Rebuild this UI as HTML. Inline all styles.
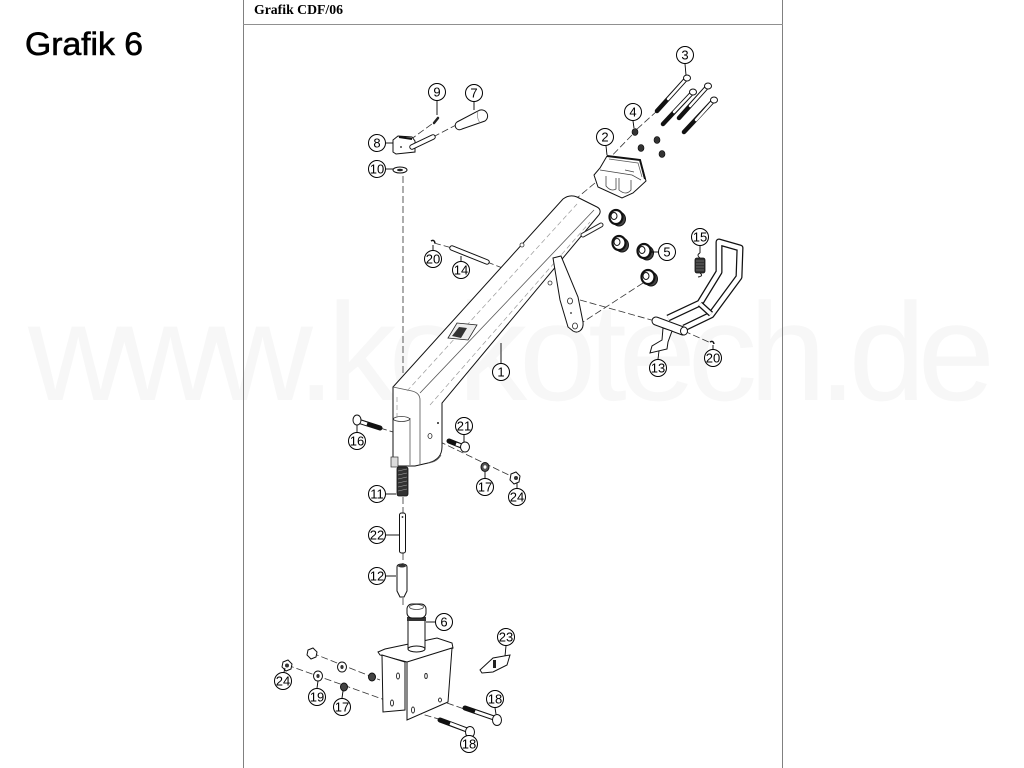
<!DOCTYPE html>
<html><head><meta charset="utf-8"><style>
html,body{margin:0;padding:0;background:#fff;}
svg{display:block;}
.n{font-family:"Liberation Sans Narrow","Liberation Sans",sans-serif;font-size:13px;text-anchor:middle;fill:#000;}
</style></head><body>
<svg width="1024" height="768" viewBox="0 0 1024 768" xmlns="http://www.w3.org/2000/svg">
<rect width="1024" height="768" fill="#fff"/>
<!-- watermark -->
<text x="28" y="400" font-family="Liberation Sans, sans-serif" font-size="139" fill="#f7f7f7" textLength="967" lengthAdjust="spacing">www.kokotech.de</text>
<!-- frame -->
<line x1="243.5" y1="0" x2="243.5" y2="768" stroke="#808080" stroke-width="1"/>
<line x1="782.5" y1="0" x2="782.5" y2="768" stroke="#808080" stroke-width="1"/>
<line x1="243" y1="24.5" x2="783" y2="24.5" stroke="#909090" stroke-width="1"/>
<text x="254" y="14" font-family="Liberation Serif, serif" font-weight="bold" font-size="13.5" textLength="89" lengthAdjust="spacingAndGlyphs">Grafik CDF/06</text>
<text x="25" y="55" font-family="Liberation Sans, sans-serif" font-size="32" stroke="#000" stroke-width="0.6" textLength="118" lengthAdjust="spacingAndGlyphs">Grafik 6</text>

<g fill="none" stroke="#333" stroke-width="0.8" stroke-dasharray="7,3">
<!-- main axis -->
<line x1="403" y1="176" x2="403" y2="418"/>
<line x1="403" y1="497" x2="403" y2="513"/>
<line x1="403" y1="553" x2="403" y2="565"/>
<line x1="403" y1="598" x2="403" y2="606"/>
<line x1="410" y1="140" x2="436" y2="121"/>
<line x1="433" y1="137" x2="458" y2="124"/>
<line x1="657" y1="111" x2="636" y2="130"/>
<line x1="632" y1="135" x2="601" y2="167"/>
<line x1="595" y1="183" x2="566" y2="207"/>
<line x1="434" y1="243" x2="452" y2="248"/>
<line x1="487" y1="262" x2="505" y2="269"/>
<line x1="580" y1="300" x2="655" y2="321"/>
<line x1="643" y1="283" x2="583" y2="322"/>
<line x1="684" y1="331" x2="711" y2="343"/>
<line x1="380" y1="428" x2="393" y2="432"/>
<line x1="430" y1="437" x2="515" y2="478"/>
<line x1="287" y1="665" x2="385" y2="700"/>
<line x1="312" y1="653" x2="380" y2="680"/>
<line x1="447" y1="703" x2="467" y2="710"/>
<line x1="415" y1="712" x2="442" y2="720"/>
</g>

<!-- BEAM part 1 -->
<g stroke="#111" stroke-width="1" fill="#fff">
<path d="M393,387 L563,199 C567,196 572,195 577,197 L597,207 C601,209 601,213 598,216 L442,403 L442,447 C442,456 436,461 428,463 L415,466 L395,466 L393,465 Z"/>
</g>
<g fill="none" stroke="#555" stroke-width="0.8">
<path d="M393,387 L412,391 Q420,393 420,400 L420,465"/>
<line x1="420" y1="393" x2="594" y2="210"/>
<line x1="410" y1="418" x2="410" y2="465"/>
<path d="M428,463 Q437,462 441,455"/>
</g>
<g fill="none" stroke="#999" stroke-width="0.7" stroke-dasharray="5,3">
<line x1="407" y1="391" x2="577" y2="204"/>
<line x1="430" y1="405" x2="590" y2="222"/>
<line x1="397" y1="397" x2="397" y2="418"/>
</g>
<ellipse cx="401.5" cy="419" rx="8" ry="2.5" fill="#fff" stroke="#333" stroke-width="0.8"/>
<rect x="391" y="457" width="7" height="10" fill="#ddd" stroke="#333" stroke-width="0.7"/>
<ellipse cx="430" cy="436" rx="2" ry="2.5" fill="none" stroke="#222" stroke-width="0.8"/>
<circle cx="438" cy="423" r="1" fill="#222"/>
<!-- slot at top -->
<line x1="583" y1="235" x2="601" y2="225" stroke="#222" stroke-width="5" stroke-linecap="round"/>
<line x1="583" y1="235" x2="601" y2="225" stroke="#fff" stroke-width="3" stroke-linecap="round"/>
<!-- studs -->
<circle cx="522" cy="245" r="2" fill="#fff" stroke="#333" stroke-width="0.8"/>
<circle cx="550" cy="283" r="2" fill="#fff" stroke="#333" stroke-width="0.8"/>
<!-- latch window -->
<path d="M448,338 L457,323 L477,325 L468,340 Z" fill="#eee" stroke="#222" stroke-width="0.8"/>
<path d="M452,336 L459,327 L467,328 L461,338 Z" fill="#333"/>
<!-- lever plate -->
<path d="M553,258 L561,256 L578,297 L583,322 C584,330 578,334 573,331 L568,327 L560,300 Z" fill="#fff" stroke="#111" stroke-width="1"/>
<ellipse cx="570" cy="301" rx="2.5" ry="3" fill="none" stroke="#222" stroke-width="0.8"/>
<ellipse cx="575" cy="326" rx="2.5" ry="3" fill="none" stroke="#222" stroke-width="0.8"/>
<circle cx="571" cy="313" r="0.9" fill="#222"/>

<!-- Bracket part 2 -->
<path d="M600,168 L607,156 L640,160 L646,181 L633,193 L622,198 L598,187 L594,175 Z" fill="#fff" stroke="#111" stroke-width="1"/>
<path d="M607,156 L640,160 L645,179" fill="none" stroke="#111" stroke-width="2"/>
<path d="M609,159 L638,163 L642,177" fill="none" stroke="#555" stroke-width="0.7"/>
<path d="M600,170 L632,175 L641,180 M606,176 L606,186 Q611,192 616,189 L616,178 M619,178 L619,190 Q626,196 631,190 L631,180 M625,170 L634,172" fill="none" stroke="#444" stroke-width="0.8"/>

<!-- Bolts 3 -->
<g stroke-linecap="round">
<g stroke="#111" stroke-width="4.5"><line x1="686" y1="79" x2="657" y2="111"/><line x1="692" y1="93" x2="663" y2="124"/><line x1="707" y1="87" x2="679" y2="118"/><line x1="713" y1="101" x2="684" y2="132"/></g>
<g stroke="#fff" stroke-width="2.5"><line x1="686" y1="79" x2="668" y2="99"/><line x1="692" y1="93" x2="674" y2="112"/><line x1="707" y1="87" x2="690" y2="106"/><line x1="713" y1="101" x2="696" y2="120"/></g>
</g>
<g fill="#fff" stroke="#111" stroke-width="1">
<ellipse cx="687" cy="78" rx="3.5" ry="3"/><ellipse cx="693" cy="92" rx="3.5" ry="3"/><ellipse cx="708" cy="86" rx="3.5" ry="3"/><ellipse cx="714" cy="100" rx="3.5" ry="3"/>
</g>
<!-- Nuts 4 -->
<g fill="#333" stroke="#000" stroke-width="0.6">
<ellipse cx="635" cy="132" rx="3" ry="3.5"/><ellipse cx="657" cy="140" rx="3" ry="3.5"/><ellipse cx="641" cy="148" rx="3" ry="3.5"/><ellipse cx="662" cy="154" rx="3" ry="3.5"/>
</g>
<!-- Nuts 5 -->
<g fill="#444" stroke="#111" stroke-width="1">
<ellipse cx="619" cy="219" rx="6.5" ry="7"/><ellipse cx="622" cy="245" rx="6.5" ry="7"/><ellipse cx="647" cy="253" rx="6.5" ry="7"/><ellipse cx="651" cy="279" rx="6.5" ry="7"/>
</g>
<g fill="#fff" stroke="#111">
<g stroke-width="2.2"><ellipse cx="616" cy="217" rx="6.5" ry="7"/><ellipse cx="619" cy="243" rx="6.5" ry="7"/><ellipse cx="644" cy="251" rx="6.5" ry="7"/><ellipse cx="648" cy="277" rx="6.5" ry="7"/></g>
<g stroke-width="1"><ellipse cx="614" cy="216" rx="3" ry="3.5"/><ellipse cx="617" cy="242" rx="3" ry="3.5"/><ellipse cx="642" cy="250" rx="3" ry="3.5"/><ellipse cx="646" cy="276" rx="3" ry="3.5"/></g>
</g>

<!-- Handle parts 7,8,9,10 -->
<path d="M393,140 L398,136 L412,137 L415,141 L415,152 L396,154 L393,152 Z" fill="#fff" stroke="#111" stroke-width="1"/>
<line x1="399" y1="137" x2="412" y2="139" stroke="#111" stroke-width="2"/>
<circle cx="401" cy="147" r="0.9" fill="#111"/>
<line x1="412" y1="147" x2="433" y2="137" stroke="#111" stroke-width="5.5" stroke-linecap="round"/>
<line x1="412" y1="147" x2="433" y2="137" stroke="#fff" stroke-width="3.5" stroke-linecap="round"/>
<path d="M457,122 L478,111 A6,6 0 0 1 485,121 L462,129 A4,4 0 0 1 457,122 Z" fill="#fff" stroke="#111" stroke-width="1"/>
<path d="M478,111 Q476,117 480,123" fill="none" stroke="#888" stroke-width="0.7"/>
<line x1="434" y1="123" x2="438" y2="118" stroke="#222" stroke-width="2.5" stroke-linecap="round"/>
<ellipse cx="400" cy="170" rx="7" ry="3" fill="#fff" stroke="#111" stroke-width="1"/>
<ellipse cx="400" cy="170" rx="3" ry="1.3" fill="#222"/>

<!-- Pin 14 and clips 20 -->
<line x1="452" y1="248" x2="487" y2="262" stroke="#111" stroke-width="5.5" stroke-linecap="round"/>
<line x1="452" y1="248" x2="487" y2="262" stroke="#fff" stroke-width="3.5" stroke-linecap="round"/>
<path d="M431,241 Q434,239 435,243" fill="none" stroke="#111" stroke-width="1.5"/>
<path d="M710,342 Q713,340 714,344" fill="none" stroke="#111" stroke-width="1.5"/>

<!-- Spring 15 -->
<path d="M700,253 Q696,255 700,258 M700,273 Q704,276 698,277" fill="none" stroke="#222" stroke-width="1"/>
<rect x="695" y="258" width="10" height="15" rx="2" fill="#333" stroke="#111" stroke-width="0.8"/>
<g stroke="#888" stroke-width="0.6"><line x1="696" y1="261" x2="704" y2="261"/><line x1="696" y1="264" x2="704" y2="264"/><line x1="696" y1="267" x2="704" y2="267"/><line x1="696" y1="270" x2="704" y2="270"/></g>

<!-- Pedal 13 -->
<path d="M668,318 L700,303 L719,272 L719,242 L740,248 L739,277 L711,315 L684,328" fill="none" stroke="#111" stroke-width="7" stroke-linejoin="round"/>
<path d="M668,318 L700,303 L719,272 L719,242 L740,248 L739,277 L711,315 L684,328" fill="none" stroke="#fff" stroke-width="4.5" stroke-linejoin="round"/>
<line x1="700" y1="304" x2="711" y2="314" stroke="#111" stroke-width="6"/>
<line x1="700" y1="304" x2="711" y2="314" stroke="#fff" stroke-width="3.5"/>
<line x1="656" y1="321" x2="683" y2="331" stroke="#111" stroke-width="9" stroke-linecap="round"/>
<line x1="656" y1="321" x2="683" y2="331" stroke="#fff" stroke-width="7" stroke-linecap="round"/>
<ellipse cx="684" cy="331" rx="3.5" ry="4" fill="#fff" stroke="#111" stroke-width="1"/>
<path d="M663,328 L672,331 L668,342 L667,349 L650,353 L652,346 L662,340 Z" fill="#fff" stroke="#111" stroke-width="1"/>

<!-- Bolt 16 -->
<line x1="358" y1="421" x2="380" y2="428" stroke="#111" stroke-width="5" stroke-linecap="round"/>
<line x1="358" y1="421" x2="367" y2="424" stroke="#fff" stroke-width="3"/>
<ellipse cx="357" cy="420" rx="4" ry="5" fill="#fff" stroke="#111" stroke-width="1"/>
<!-- Bolt 21 -->
<line x1="449" y1="441" x2="464" y2="447" stroke="#111" stroke-width="5" stroke-linecap="round"/>
<line x1="456" y1="444" x2="462" y2="446" stroke="#fff" stroke-width="3"/>
<ellipse cx="465" cy="447" rx="4.5" ry="5" fill="#fff" stroke="#111" stroke-width="1"/>
<!-- nut 17 / 24 upper -->
<ellipse cx="485" cy="467" rx="4" ry="4.5" fill="#555" stroke="#111" stroke-width="1"/>
<ellipse cx="485" cy="467" rx="1.5" ry="1.8" fill="#fff"/>
<path d="M511,474 L516,472 L520,476 L519,482 L514,484 L510,480 Z" fill="#fff" stroke="#111" stroke-width="1"/>
<circle cx="516" cy="478" r="2" fill="#333"/>

<!-- Spring 11 -->
<rect x="397" y="467" width="11" height="29" rx="2" fill="#333" stroke="#111" stroke-width="0.8"/>
<g stroke="#aaa" stroke-width="0.6"><line x1="398" y1="471" x2="407" y2="469"/><line x1="398" y1="475" x2="407" y2="473"/><line x1="398" y1="479" x2="407" y2="477"/><line x1="398" y1="483" x2="407" y2="481"/><line x1="398" y1="487" x2="407" y2="485"/><line x1="398" y1="491" x2="407" y2="489"/></g>
<!-- Pin 22 -->
<rect x="399.5" y="513" width="6" height="40" rx="2" fill="#fff" stroke="#111" stroke-width="1"/>
<circle cx="402.5" cy="517" r="0.9" fill="#111"/>
<!-- Bush 12 -->
<path d="M397,567 Q397,564 402,564 Q407,564 407,567 L407,591 L404,597 L400,597 L397,591 Z" fill="#fff" stroke="#111" stroke-width="1"/>
<ellipse cx="402" cy="566" rx="4" ry="1.5" fill="#333"/>

<!-- Part 6 and base -->
<path d="M378,652 L385,649 L437,638 L452,643 L453,648 L413,663 L407,662 L380,655 Z" fill="#fff" stroke="#111" stroke-width="1"/>
<path d="M382,655 L405,662 L405,710 L383,712 Z" fill="#fff" stroke="#111" stroke-width="1"/>
<path d="M407,662 L452,648 L448,702 L407,720 Z" fill="#fff" stroke="#111" stroke-width="1"/>
<g fill="none" stroke="#222" stroke-width="0.9">
<ellipse cx="398" cy="676" rx="1.5" ry="3"/><ellipse cx="392" cy="703" rx="1.5" ry="3"/><ellipse cx="426" cy="676" rx="1.3" ry="2.5"/><ellipse cx="413" cy="710" rx="1.5" ry="3"/><ellipse cx="440" cy="700" rx="1.5" ry="2"/>
</g>
<rect x="408" y="619" width="17" height="30" fill="#fff" stroke="#111" stroke-width="1"/>
<ellipse cx="416.5" cy="649" rx="8.5" ry="3" fill="#fff" stroke="#111" stroke-width="1"/>
<rect x="407" y="617" width="19" height="4" fill="#333"/>
<rect x="407" y="604" width="19" height="14" rx="5" fill="#fff" stroke="#111" stroke-width="1"/>
<ellipse cx="416.5" cy="607" rx="7" ry="2.5" fill="none" stroke="#444" stroke-width="0.8"/>
<!-- Part 23 -->
<path d="M480,670 L493,658 L510,655 L507,665 L493,672 L482,673 Z" fill="#fff" stroke="#111" stroke-width="1"/>
<rect x="493" y="660" width="3" height="8" fill="#222"/>
<!-- Bolts 18 -->
<line x1="465" y1="708" x2="494" y2="718" stroke="#111" stroke-width="5" stroke-linecap="round"/>
<line x1="475" y1="711.5" x2="494" y2="718" stroke="#fff" stroke-width="3"/>
<ellipse cx="497" cy="720" rx="4.5" ry="5.5" fill="#fff" stroke="#111" stroke-width="1"/>
<line x1="440" y1="720" x2="467" y2="730" stroke="#111" stroke-width="5" stroke-linecap="round"/>
<line x1="450" y1="723.5" x2="467" y2="730" stroke="#fff" stroke-width="3"/>
<ellipse cx="470" cy="732" rx="4.5" ry="5.5" fill="#fff" stroke="#111" stroke-width="1"/>
<!-- lower nuts/washers -->
<path d="M283,662 L288,660 L292,664 L291,669 L286,671 L282,667 Z" fill="#fff" stroke="#111" stroke-width="1"/>
<circle cx="287" cy="665.5" r="2" fill="#333"/>
<path d="M308,650 L313,648 L317,652 L316,657 L311,659 L307,655 Z" fill="#fff" stroke="#111" stroke-width="1"/>
<ellipse cx="318" cy="676" rx="4.5" ry="5" fill="#fff" stroke="#111" stroke-width="1"/>
<ellipse cx="318" cy="676" rx="1.6" ry="2" fill="#333"/>
<ellipse cx="342" cy="667" rx="4.5" ry="5" fill="#fff" stroke="#111" stroke-width="1"/>
<ellipse cx="342" cy="667" rx="1.6" ry="2" fill="#333"/>
<ellipse cx="344" cy="687" rx="3.5" ry="4" fill="#444" stroke="#111" stroke-width="1"/>
<ellipse cx="372" cy="677" rx="3.5" ry="4" fill="#444" stroke="#111" stroke-width="1"/>

<!-- leaders -->
<g stroke="#000" stroke-width="0.9" fill="none">
<line x1="685" y1="64" x2="686" y2="75"/>
<line x1="633" y1="121" x2="634" y2="128"/>
<line x1="606" y1="146" x2="607" y2="155"/>
<line x1="437" y1="101" x2="437" y2="115"/>
<line x1="474" y1="102" x2="474" y2="110"/>
<line x1="386" y1="143" x2="393" y2="143"/>
<line x1="386" y1="169" x2="393" y2="169"/>
<line x1="658" y1="252" x2="651" y2="252"/>
<line x1="700" y1="246" x2="700" y2="253"/>
<line x1="433" y1="250" x2="433" y2="245"/>
<line x1="461" y1="261" x2="461" y2="256"/>
<line x1="501" y1="363" x2="501" y2="343"/>
<line x1="658" y1="359" x2="659" y2="351"/>
<line x1="713" y1="349" x2="713" y2="345"/>
<line x1="357" y1="432" x2="357" y2="425"/>
<line x1="464" y1="435" x2="464" y2="442"/>
<line x1="485" y1="478" x2="485" y2="472"/>
<line x1="517" y1="488" x2="517" y2="483"/>
<line x1="386" y1="494" x2="396" y2="494"/>
<line x1="386" y1="535" x2="399" y2="535"/>
<line x1="386" y1="576" x2="396" y2="576"/>
<line x1="435" y1="622" x2="426" y2="622"/>
<line x1="506" y1="646" x2="505" y2="656"/>
<line x1="284" y1="672" x2="285" y2="668"/>
<line x1="317" y1="688" x2="318" y2="681"/>
<line x1="342" y1="698" x2="343" y2="691"/>
<line x1="495" y1="708" x2="496" y2="714"/>
<line x1="469" y1="735" x2="469" y2="737"/>
</g>

<!-- callouts -->
<g fill="#fff" stroke="#000" stroke-width="1">
<circle cx="685" cy="55" r="8.5"/><circle cx="633" cy="112" r="8.5"/><circle cx="605" cy="137" r="8.5"/>
<circle cx="437" cy="92" r="8.5"/><circle cx="474" cy="93" r="8.5"/><circle cx="377" cy="143" r="8.5"/>
<circle cx="377" cy="169" r="8.5"/><circle cx="667" cy="252" r="8.5"/><circle cx="700" cy="237" r="8.5"/>
<circle cx="433" cy="259" r="8.5"/><circle cx="461" cy="270" r="8.5"/><circle cx="501" cy="372" r="8.5"/>
<circle cx="658" cy="368" r="8.5"/><circle cx="713" cy="358" r="8.5"/><circle cx="357" cy="441" r="8.5"/>
<circle cx="464" cy="426" r="8.5"/><circle cx="485" cy="487" r="8.5"/><circle cx="517" cy="497" r="8.5"/>
<circle cx="377" cy="494" r="8.5"/><circle cx="377" cy="535" r="8.5"/><circle cx="377" cy="576" r="8.5"/>
<circle cx="444" cy="622" r="8.5"/><circle cx="506" cy="637" r="8.5"/><circle cx="283" cy="681" r="8.5"/>
<circle cx="317" cy="697" r="8.5"/><circle cx="342" cy="707" r="8.5"/><circle cx="495" cy="699" r="8.5"/>
<circle cx="469" cy="744" r="8.5"/>
</g>
<g class="n">
<text x="685" y="59.5">3</text><text x="633" y="116.5">4</text><text x="605" y="141.5">2</text>
<text x="437" y="96.5">9</text><text x="474" y="97.5">7</text><text x="377" y="147.5">8</text>
<text x="377" y="173.5">10</text><text x="667" y="256.5">5</text><text x="700" y="241.5">15</text>
<text x="433" y="263.5">20</text><text x="461" y="274.5">14</text><text x="501" y="376.5">1</text>
<text x="658" y="372.5">13</text><text x="713" y="362.5">20</text><text x="357" y="445.5">16</text>
<text x="464" y="430.5">21</text><text x="485" y="491.5">17</text><text x="517" y="501.5">24</text>
<text x="377" y="498.5">11</text><text x="377" y="539.5">22</text><text x="377" y="580.5">12</text>
<text x="444" y="626.5">6</text><text x="506" y="641.5">23</text><text x="283" y="685.5">24</text>
<text x="317" y="701.5">19</text><text x="342" y="711.5">17</text><text x="495" y="703.5">18</text>
<text x="469" y="748.5">18</text>
</g>
</svg>
</body></html>
